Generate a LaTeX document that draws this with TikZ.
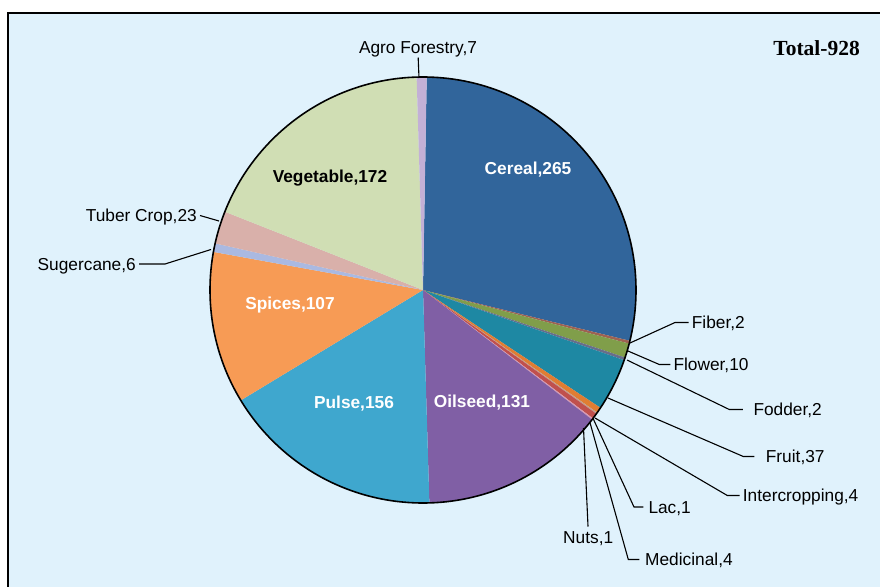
\documentclass[tikz,border=0pt]{standalone}
\usepackage{fontspec}
\setmainfont{Liberation Sans}
\newfontfamily\titlefont{Liberation Serif}
\definecolor{bgblue}{RGB}{224,242,252}
\definecolor{cCereal}{RGB}{49,101,155}
\definecolor{cFiber}{RGB}{158,98,82}
\definecolor{cFlower}{RGB}{128,158,74}
\definecolor{cFodder}{RGB}{104,110,138}
\definecolor{cFruit}{RGB}{30,136,163}
\definecolor{cInter}{RGB}{224,125,50}
\definecolor{cLac}{RGB}{196,156,138}
\definecolor{cMed}{RGB}{192,80,77}
\definecolor{cNuts}{RGB}{216,152,178}
\definecolor{cOil}{RGB}{128,95,165}
\definecolor{cPulse}{RGB}{63,167,206}
\definecolor{cSpice}{RGB}{247,155,85}
\definecolor{cSugar}{RGB}{170,185,225}
\definecolor{cTuber}{RGB}{217,176,170}
\definecolor{cVeg}{RGB}{208,222,180}
\definecolor{cAgro}{RGB}{195,176,214}
\begin{document}
\begin{tikzpicture}[x=1pt,y=1pt,
  lbl/.style={font=\fontsize{17.3}{20}\selectfont, inner xsep=3pt, inner ysep=0pt, text height=12.4pt, text depth=0pt},
  inlbl/.style={font=\fontsize{17.3}{20}\selectfont\bfseries, inner sep=0pt},
  leader/.style={draw=black, line width=1.1pt},
]
\useasboundingbox (0,0) rectangle (880,-586);
\clip (0,0) rectangle (880,-586);
\draw[line width=1.6pt, fill=bgblue] (8,-13) rectangle (900,-600);

% pie
\begin{scope}[shift={(423,-290)}, rotate=-1]
\foreach \a/\b/\c in {90/-12.802/cCereal, -12.802/-13.578/cFiber, -13.578/-17.457/cFlower,
  -17.457/-18.233/cFodder, -18.233/-32.586/cFruit, -32.586/-34.138/cInter,
  -34.138/-34.526/cLac, -34.526/-36.078/cMed, -36.078/-36.466/cNuts,
  -36.466/-87.284/cOil, -87.284/-147.802/cPulse, -147.802/-189.310/cSpice,
  -189.310/-191.638/cSugar, -191.638/-200.560/cTuber, -200.560/-267.284/cVeg,
  -267.284/-270/cAgro}{
  \fill[\c] (0,0) -- (\a:213pt) arc[start angle=\a, end angle=\b, radius=213pt] -- cycle;
}
\draw[line width=1.6pt] (0,0) circle[radius=213pt];
\end{scope}

% labels inside
\node[inlbl, text=white] (cer) at (528,-170) {Cereal,265};
\node[inlbl, text=black] (veg) at (330,-178) {Vegetable,172};
\node[inlbl, text=white] (spi) at (290,-305) {Spices,107};
\node[inlbl, text=white] (pul) at (354,-404) {Pulse,156};
\node[inlbl, text=white] (oil) at (482,-403) {Oilseed,131};

% title
\node[font=\titlefont\bfseries\fontsize{21.5}{24}\selectfont, anchor=east, inner sep=0pt] (tot) at (860,-48) {Total-928};

% outside labels
\node[lbl, anchor=south] (agr) at (418,-53.5) {Agro Forestry,7};
\node[lbl, anchor=east] (tub) at (200,-215.5) {Tuber Crop,23};
\node[lbl, anchor=east] (sug) at (139,-264) {Sugercane,6};
\node[lbl, anchor=west] (fib) at (688.7,-322.5) {Fiber,2};
\node[lbl, anchor=west] (flo) at (670.3,-364.5) {Flower,10};
\node[lbl, anchor=west] (fod) at (750.3,-409.5) {Fodder,2};
\node[lbl, anchor=west] (fru) at (762.7,-456.5) {Fruit,37};
\node[lbl, anchor=west] (int) at (739.7,-495.5) {Intercropping,4};
\node[lbl, anchor=west] (lac) at (645.3,-507) {Lac,1};
\node[lbl, anchor=west] (med) at (642,-559.5) {Medicinal,4};
\node[lbl, anchor=north] (nut) at (588.2,-530.5) {Nuts,1};

% pie edge points
\coordinate (agrp) at (419,-78);
\coordinate (tubp) at (219,-221);
\coordinate (sugp) at (211,-249.5);
\coordinate (sugk) at (165,-264);
\coordinate (fibp) at (630,-343);
\coordinate (flop) at (628,-351);
\coordinate (fodp) at (627,-360);
\coordinate (frup) at (608,-398);
\coordinate (intp) at (595,-418);
\coordinate (lacp) at (593,-418.3);
\coordinate (medp) at (590,-422.7);
\coordinate (nutp) at (583.5,-428);

% leaders
\draw[leader, shorten >=4pt] (agrp) -- (agr.south);
\draw[leader] (tub.east) -- (tubp);
\draw[leader] (sug.east) -- (sugk) -- (sugp);
\draw[leader] (fibp) -- (675,-322.5) -- (fib.west);
\draw[leader] (flop) -- (659.3,-364.5) -- (flo.west);
\draw[leader, shorten >=7.5pt] (fodp) -- (729.3,-409.5) -- (fod.west);
\draw[leader, shorten >=8.4pt] (frup) -- (743.3,-456.5) -- (fru.west);
\draw[leader] (intp) -- (727.3,-495.5) -- (int.west);
\draw[leader, shorten >=2pt] (lacp) -- (634,-507) -- (lac.west);
\draw[leader, shorten >=2.7pt] (medp) -- (628.3,-559.5) -- (med.west);
\draw[leader, shorten >=4pt] (nutp) -- (nut.north);
\end{tikzpicture}
\end{document}
